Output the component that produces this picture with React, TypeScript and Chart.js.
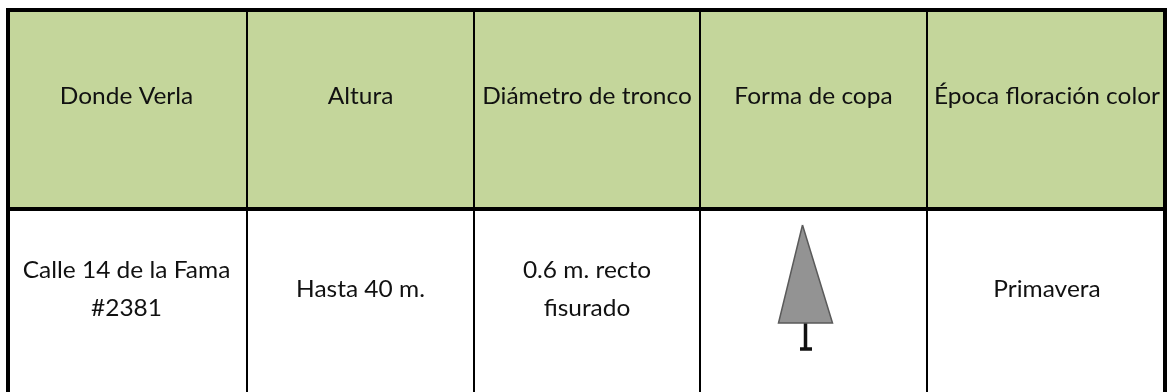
import React, { useEffect, useRef } from "react";
import { Chart, registerables } from "chart.js";

Chart.register(...registerables);

const rowNames = ["Encabezado", "Fila"];
const columnWidths = [241, 227, 226, 227, 240];
const headerLabels = ["Donde Verla", "Altura", "Diámetro de tronco", "Forma de copa", "Época floración color"];
const bodyLabels = [["Calle 14 de la Fama", "#2381"], ["Hasta 40 m."], ["0.6 m. recto", "fisurado"], [], ["Primavera"]];
const crownX = [796.5, 772.5, 826.5, 796.5];
const crownY = [217, 315, 315, 217];
const trunkX = [799.5, 799.5];
const trunkY = [315, 341];
const footX = [794, 806];
const footY = [341, 341];

const stretchedText = (ctx: any, text: string, x: number, y: number) => {
  ctx.save();
  ctx.translate(x, y);
  ctx.scale(1.02, 1);
  ctx.fillText(text, 0, 0);
  ctx.restore();
};

const tablePlugin = {
  id: "tableText",
  afterDatasetsDraw(chart: any) {
    const { ctx } = chart;
    ctx.save();
    ctx.font = '24px Lato, sans-serif';
    ctx.fillStyle = "#111111";
    ctx.textAlign = "center";
    ctx.textBaseline = "middle";
    const lineHeight = 38;
    headerLabels.forEach((label, i) => {
      const el = chart.getDatasetMeta(i).data[0];
      const left = Math.min(el.x, el.base);
      const right = Math.max(el.x, el.base);
      stretchedText(ctx, label, (left + right) / 2, el.y - 12);
    });
    bodyLabels.forEach((lines, i) => {
      const el = chart.getDatasetMeta(i).data[1];
      const left = Math.min(el.x, el.base);
      const right = Math.max(el.x, el.base);
      lines.forEach((line, j) => {
        const offset = (j - (lines.length - 1) / 2) * lineHeight;
        stretchedText(ctx, line, (left + right) / 2, el.y - 20 + offset);
      });
    });
    ctx.restore();
  },
};

export default function App() {
  const ref = useRef<HTMLCanvasElement>(null);
  useEffect(() => {
    document.body.style.margin = "0";
    const total = columnWidths.reduce((a, b) => a + b, 0);
    const treeBase = {
      type: "scatter",
      xAxisID: "tx",
      yAxisID: "ty",
      indexAxis: "x",
      showLine: true,
      pointRadius: 0,
      tension: 0,
      order: -1,
    };
    const chart = new Chart(ref.current!, {
      type: "bar",
      data: {
        labels: rowNames,
        datasets: [
          ...columnWidths.map((w, i) => ({
            label: headerLabels[i],
            data: rowNames.map(() => w),
            stack: "tabla",
            grouped: false,
            backgroundColor: (c: any) => (c.dataIndex === 0 ? "#c4d69b" : "#ffffff"),
            borderColor: "#000000",
            borderSkipped: false,
            inflateAmount: 0,
            barPercentage: 1,
            categoryPercentage: 1,
            borderWidth: (c: any) => ({
              left: i === 0 ? 4 : 1,
              right: i === columnWidths.length - 1 ? 4 : 1,
              top: c.dataIndex === 0 ? 4 : 2,
              bottom: c.dataIndex === 0 ? 2 : 4,
            }),
          })),
          {
            ...treeBase,
            label: "Copa",
            data: crownX.map((x, i) => ({ x, y: crownY[i] })),
            backgroundColor: "#939393",
            borderColor: "#5a5a5a",
            borderWidth: 1.5,
            fill: "shape",
          },
          {
            ...treeBase,
            label: "Tronco",
            data: trunkX.map((x, i) => ({ x, y: trunkY[i] })),
            borderColor: "#111111",
            borderWidth: 3.5,
          },
          {
            ...treeBase,
            label: "Pie",
            data: footX.map((x, i) => ({ x, y: footY[i] })),
            borderColor: "#111111",
            borderWidth: 3.5,
          },
        ] as any,
      },
      options: {
        animation: false,
        responsive: false,
        indexAxis: "y",
        layout: { padding: { left: 6, right: 1, top: 8, bottom: 0 } },
        plugins: { legend: { display: false }, tooltip: { enabled: false }, title: { display: false } },
        scales: {
          x: { type: "linear", stacked: true, min: 0, max: total, display: false },
          y: { type: "category", stacked: true, display: false },
          tx: { type: "linear", axis: "x", min: 0, max: total, display: false, offset: false },
          ty: { type: "linear", axis: "y", min: 0, max: 402, reverse: true, display: false, offset: false },
        },
      } as any,
      plugins: [tablePlugin],
    });
    return () => chart.destroy();
  }, []);
  return (
    <div style={{ width: 1168, height: 392, overflow: "hidden", background: "#ffffff" }}>
      <canvas ref={ref} width={1168} height={410} style={{ display: "block" }} />
    </div>
  );
}
